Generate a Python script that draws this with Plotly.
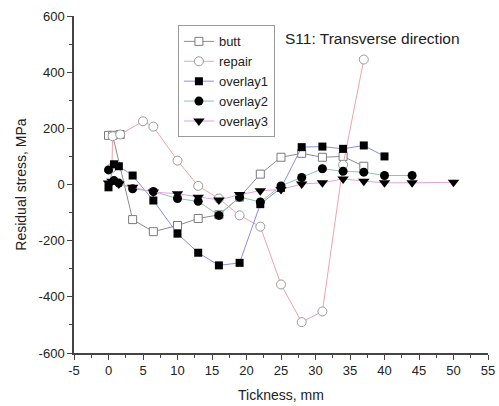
import plotly.graph_objects as go

butt_x = [0, 1.7, 0.6, 3.5, 6.5, 10, 13, 16, 19, 22, 25, 28, 31, 34, 37]
butt_y = [175, 178, 175, -125, -168, -146, -121, -108, -45, 37, 97, 111, 97, 100, 65]

repair_x = [0.5, 0.6, 1.7, 5, 6.5, 10, 13, 16, 19, 22, 25, 28, 31, 34, 37]
repair_y = [60, 172, 178, 225, 206, 85, -5, -50, -110, -150, -356, -490, -452, 70, 445]

overlay1_x = [0, 0.8, 1.5, 3.5, 6.5, 10, 13, 16, 19, 22, 25, 28, 31, 34, 37, 40]
overlay1_y = [-10, 72, 65, 32, -57, -175, -243, -288, -279, -70, -12, 133, 135, 127, 139, 100]

overlay2_x = [0, 0.8, 1.5, 3.5, 6.5, 10, 13, 16, 19, 22, 25, 28, 31, 34, 37, 40, 44]
overlay2_y = [52, 14, 5, -15, -25, -50, -60, -110, -45, -62, -5, 25, 56, 47, 44, 32, 32]

overlay3_x = [0, 0.5, 1.5, 3.5, 6.5, 10, 13, 16, 19, 22, 25, 28, 31, 34, 37, 40, 44, 50]
overlay3_y = [5, 12, 2, -10, -27, -33, -45, -55, -36, -22, -18, 2, 6, 20, 12, 6, 6, 8]

x_ticks = [-5, 0, 5, 10, 15, 20, 25, 30, 35, 40, 45, 50, 55]
x_tick_text = ["-5", "0", "5", "10", "15", "20", "25", "30", "35", "40", "45", "50", "55"]
y_ticks = [-600, -400, -200, 0, 200, 400, 600]
y_tick_text = ["-600", "-400", "-200", "0", "200", "400", "600"]

FONT = "Liberation Sans, Arial, sans-serif"
TXT = "#222222"

fig = go.Figure()

series = [
    ("butt", butt_x, butt_y, "#8c8c8c", dict(symbol="square", color="white", size=8, line=dict(color="#7a7a7a", width=1))),
    ("repair", repair_x, repair_y, "#f2a2aa", dict(symbol="circle", color="white", size=9, line=dict(color="#9a9a9a", width=1))),
    ("overlay1", overlay1_x, overlay1_y, "#8c8ce6", dict(symbol="square", color="black", size=8, line=dict(width=0))),
    ("overlay2", overlay2_x, overlay2_y, "#86c9aa", dict(symbol="circle", color="black", size=9, line=dict(width=0))),
    ("overlay3", overlay3_x, overlay3_y, "#e4a0e4", dict(symbol="triangle-down", color="black", size=10, line=dict(width=0))),
]
for name, xs, ys, lc, mk in series:
    fig.add_trace(go.Scatter(x=xs, y=ys, name=name, mode="lines+markers",
                             line=dict(color=lc, width=1), marker=mk))

fig.update_layout(
    width=499, height=406,
    margin=dict(l=74, r=11, t=16, b=53, autoexpand=False),
    paper_bgcolor="white", plot_bgcolor="white",
    font=dict(family=FONT, size=12, color=TXT),
    showlegend=True,
    legend=dict(x=0.251, y=0.972, xanchor="left", yanchor="top",
                bordercolor="#999999", borderwidth=1, bgcolor="white",
                font=dict(size=13, family=FONT, color=TXT),
                tracegroupgap=0, itemwidth=30),
    xaxis=dict(range=[-5, 55], tickvals=x_ticks, ticktext=x_tick_text, ticks="outside", ticklen=5,
               tickcolor="#444", showline=True, linecolor="#444", linewidth=1.5,
               showgrid=False, zeroline=False, automargin=False,
               minor=dict(dtick=2.5, tick0=0, ticks="outside", ticklen=3, tickcolor="#444"),
               tickfont=dict(size=13, color=TXT)),
    xaxis2=dict(range=[-5, 55], overlaying="x", side="top", tickvals=x_ticks,
                ticks="inside", ticklen=5, tickcolor="#444", showline=True,
                linecolor="#444", linewidth=1.5, showticklabels=False,
                showgrid=False, zeroline=False, automargin=False,
                minor=dict(dtick=2.5, tick0=0, ticks="inside", ticklen=3, tickcolor="#444")),
    yaxis=dict(range=[-600, 600], tickvals=y_ticks, ticktext=y_tick_text, ticks="outside", ticklen=5,
               tickcolor="#444", showline=True, linecolor="#444", linewidth=1.5,
               showgrid=False, zeroline=False, automargin=False,
               minor=dict(dtick=100, tick0=0, ticks="outside", ticklen=3, tickcolor="#444"),
               tickfont=dict(size=13, color=TXT)),
    yaxis2=dict(range=[-600, 600], overlaying="y", side="right", tickvals=y_ticks,
                ticks="inside", ticklen=5, tickcolor="#444", showline=True,
                linecolor="#444", linewidth=1.5, showticklabels=False,
                showgrid=False, zeroline=False, automargin=False,
                minor=dict(dtick=100, tick0=0, ticks="inside", ticklen=5, tickcolor="#444")),
    annotations=[
        dict(text="S11: Transverse direction", x=0.722, y=0.932, xref="paper", yref="paper",
             xanchor="center", yanchor="middle",
             showarrow=False, font=dict(size=15.5, family=FONT, color=TXT)),
        dict(text="Tickness, mm", x=0.5, y=-0.125, xref="paper", yref="paper",
             xanchor="center", yanchor="middle", showarrow=False,
             font=dict(size=14, family=FONT, color=TXT)),
        dict(text="Residual stress, MPa", x=-0.130, y=0.5, xref="paper", yref="paper",
             xanchor="center", yanchor="middle",
             textangle=-90, showarrow=False, font=dict(size=14, family=FONT, color=TXT)),
    ],
)

fig.write_html("out.html")
